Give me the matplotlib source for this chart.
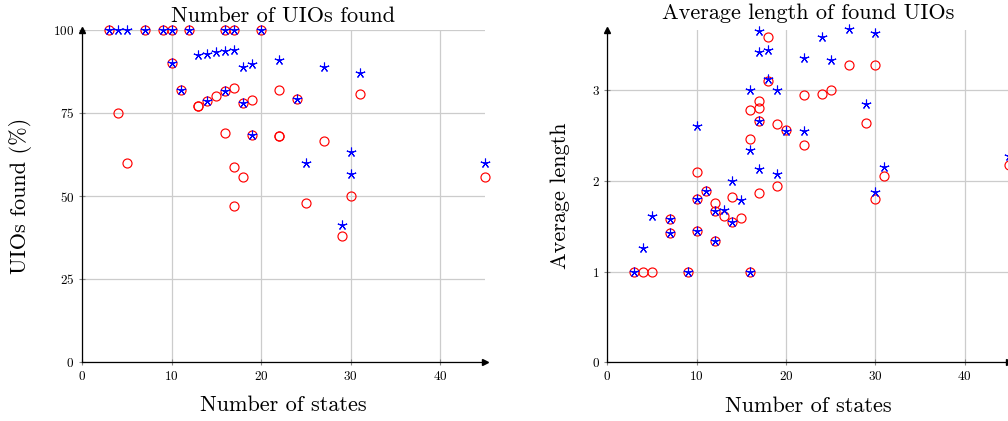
import matplotlib
matplotlib.use("Agg")
import matplotlib.pyplot as plt

plt.rcParams['font.family'] = ['cmr10', 'DejaVu Serif']
plt.rcParams['mathtext.fontset'] = 'cm'
plt.rcParams['axes.formatter.use_mathtext'] = True

# UIOs found (%) vs number of states
found_red_x = [3, 4, 5, 7, 9, 10, 10, 11, 12, 13, 13, 14, 15, 16, 16, 16, 17, 17, 17, 17,
               18, 18, 19, 19, 20, 22, 22, 22, 24, 25, 27, 29, 30, 31, 45]
found_red_y = [100, 75, 60, 100, 100, 100, 90, 82, 100, 77, 77, 78.6, 80.1, 100, 81.5, 68.9,
               100, 82.5, 58.7, 47.1, 78, 55.6, 78.9, 68.5, 100, 82, 68.2, 68.2, 79.2, 48,
               66.7, 38, 50, 80.7, 55.6]
found_blue_x = [3, 4, 5, 7, 9, 10, 10, 11, 12, 13, 14, 15, 16, 17, 14, 16, 16, 17, 18, 19,
                18, 19, 20, 22, 24, 25, 27, 30, 30, 29, 31, 45]
found_blue_y = [100, 100, 100, 100, 100, 100, 90, 82, 100, 92.4, 92.9, 93.3, 93.7, 94.1,
                78.6, 81.5, 100, 100, 89, 89.7, 78, 68.5, 100, 91, 79.2, 60, 89, 63.2,
                56.6, 41.3, 87, 60]

# Average length vs number of states
len_red_x = [3, 4, 5, 7, 7, 9, 10, 10, 10, 11, 12, 12, 12, 13, 14, 14, 15, 16, 16, 16,
             17, 17, 17, 17, 18, 18, 19, 19, 20, 22, 22, 24, 25, 27, 29, 30, 30, 31, 45]
len_red_y = [1, 1, 1, 1.58, 1.43, 1, 2.10, 1.80, 1.45, 1.89, 1.76, 1.67, 1.34, 1.61, 1.82,
             1.55, 1.59, 2.78, 2.46, 1, 2.88, 2.80, 2.66, 1.86, 3.58, 3.10, 2.62, 1.94, 2.56,
             2.94, 2.39, 2.95, 3.0, 3.28, 2.64, 3.27, 1.80, 2.05, 2.17]
len_blue_x = [3, 4, 5, 7, 7, 9, 10, 10, 10, 11, 12, 12, 13, 14, 14, 15, 16, 16, 16, 17,
              17, 17, 17, 18, 18, 19, 19, 20, 22, 22, 24, 25, 27, 29, 30, 30, 31, 45]
len_blue_y = [1, 1.26, 1.61, 1.58, 1.43, 1, 2.6, 1.80, 1.45, 1.89, 1.67, 1.34, 1.68, 2.0,
              1.55, 1.79, 3.0, 2.34, 1, 3.65, 3.42, 2.66, 2.13, 3.44, 3.12, 3.0, 2.07, 2.55,
              3.35, 2.55, 3.58, 3.33, 3.67, 2.84, 3.63, 1.88, 2.15, 2.27]

W, H = 1008, 421
fig = plt.figure(figsize=(W / 100, H / 100), dpi=100)

ax1 = fig.add_axes([82 / W, (H - 362) / H, 403 / W, 332 / H])
ax2 = fig.add_axes([607.4 / W, (H - 362.4) / H, 402 / W, 332.4 / H])

star = (5, 2, 0)


def style(ax, xmax, ymax, yticks):
    ax.set_xlim(0, xmax)
    ax.set_ylim(0, ymax)
    ax.set_xticks([0, 10, 20, 30, 40])
    ax.set_yticks(yticks)
    ax.grid(True, color='#cccccc', linewidth=0.9)
    ax.set_axisbelow(True)
    for s in ['top', 'right']:
        ax.spines[s].set_visible(False)
    for s in ['left', 'bottom']:
        ax.spines[s].set_linewidth(0.9)
    ax.tick_params(direction='inout', length=5, width=0.8, color='#888888',
                   labelsize=9.5, pad=3)
    ax.plot(1, 0, '>', color='black', ms=4, transform=ax.transAxes, clip_on=False)
    ax.plot(0, 1, '^', color='black', ms=4, transform=ax.transAxes, clip_on=False)
    ax.set_xlabel('Number of states', fontsize=16)
    ax.xaxis.set_label_coords(0.5, -0.102)


ax1.plot(found_red_x, found_red_y, 'o', mfc='none', mec='red', ms=6.5, mew=0.85,
         clip_on=False, zorder=3)
ax1.plot(found_blue_x, found_blue_y, marker=star, ls='none', color='blue', ms=7, mew=0.8,
         clip_on=False, zorder=4)
style(ax1, 45, 100, [0, 25, 50, 75, 100])
ax1.set_ylabel('UIOs found (%)', fontsize=16)
ax1.yaxis.set_label_coords(-0.124, 0.5)
ax1.set_title('Number of UIOs found', fontsize=16, pad=5.8)

ax2.plot(len_red_x, len_red_y, 'o', mfc='none', mec='red', ms=6.5, mew=0.85,
         clip_on=False, zorder=3)
ax2.plot(len_blue_x, len_blue_y, marker=star, ls='none', color='blue', ms=7, mew=0.8,
         clip_on=False, zorder=4)
style(ax2, 45, 3.66, [0, 1, 2, 3])
ax2.set_ylabel('Average length', fontsize=16)
ax2.yaxis.set_label_coords(-0.093, 0.5)
ax2.set_title('Average length of found UIOs', fontsize=16, pad=7.8)

fig.savefig('out.png', dpi=100)
